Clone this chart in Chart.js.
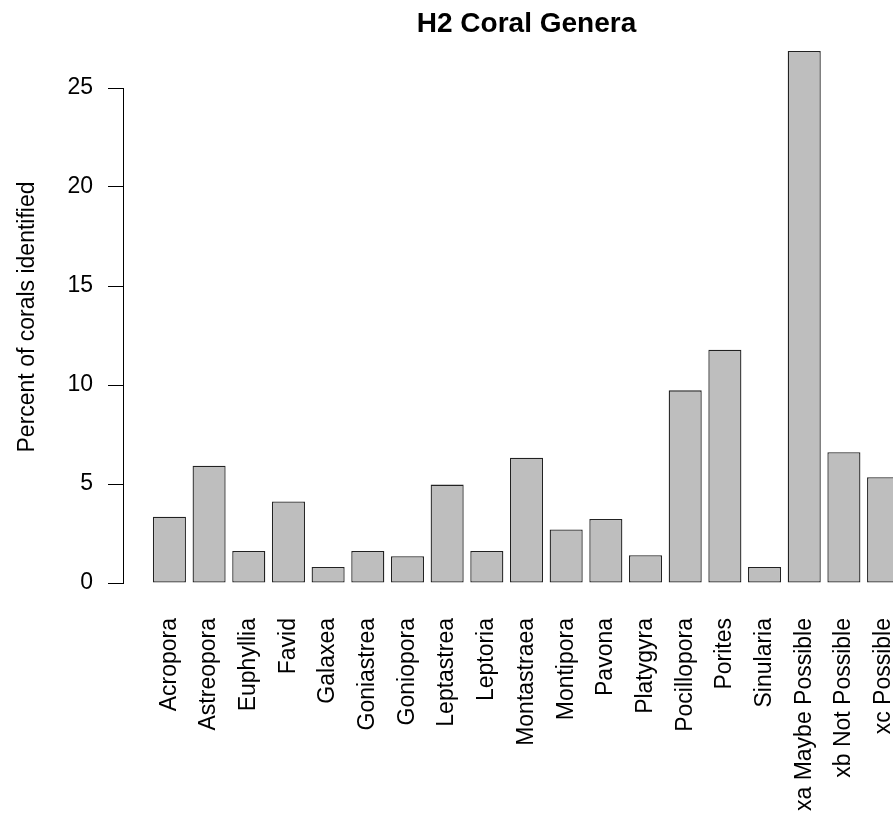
<!DOCTYPE html>
<html>
<head>
<meta charset="utf-8">
<script src="https://cdn.jsdelivr.net/npm/chart.js@4/dist/chart.umd.min.js"></script>
<style>
  html, body { margin: 0; padding: 0; background: #fff; overflow: hidden; width: 893px; height: 813px; }
  #wrap { position: absolute; left: 0; top: 0; width: 930px; height: 813px; }
  #c { width: 930px; height: 813px; }
</style>
</head>
<body>
<div id="wrap"><canvas id="c" width="930" height="813"></canvas></div>
<script>
const chartTitle = "H2 Coral Genera";
const yAxisTitle = "Percent of corals identified";
const categories = ["Acropora", "Astreopora", "Euphyllia", "Favid", "Galaxea", "Goniastrea",
  "Goniopora", "Leptastrea", "Leptoria", "Montastraea", "Montipora", "Pavona", "Platygyra",
  "Pocillopora", "Porites", "Sinularia", "xa Maybe Possible", "xb Not Possible", "xc Possible"];
const percents = [3.35, 5.92, 1.62, 4.12, 0.81, 1.62, 1.35, 4.97, 1.62, 6.33, 2.70, 3.23, 1.40,
  9.73, 11.78, 0.81, 26.87, 6.60, 5.34];
const yTickValues = [0, 5, 10, 15, 20, 25];

const FONT = "'Liberation Sans', Arial, sans-serif";
const points = categories.map((c, i) => ({ x: i, y: percents[i] }));

// y-axis title centred on the full plotting region (R style: 4% padding around data range)
const yTitlePlugin = {
  id: 'yTitleR',
  afterDraw(chart) {
    const y = chart.scales.y;
    const maxV = Math.max(...percents);
    const lo = -0.04 * maxV, hi = maxV * 1.04;
    const cy = y.getPixelForValue((lo + hi) / 2);
    const ctx = chart.ctx;
    ctx.save();
    ctx.translate(28, cy);
    ctx.rotate(-Math.PI / 2);
    ctx.font = "23px " + FONT;
    ctx.fillStyle = '#000';
    ctx.textAlign = 'center';
    ctx.textBaseline = 'middle';
    ctx.fillText(yAxisTitle, 0, 0);
    ctx.restore();
  }
};

new Chart(document.getElementById('c'), {
  type: 'bar',
  data: {
    datasets: [{
      data: points,
      backgroundColor: '#bebebe',
      borderColor: '#222',
      borderWidth: 1.3,
      borderSkipped: false,
      categoryPercentage: 1,
      barPercentage: 1 / 1.2,
      clip: false
    }]
  },
  plugins: [yTitlePlugin],
  options: {
    responsive: false,
    animation: false,
    devicePixelRatio: 1,
    layout: { padding: 0 },
    plugins: {
      legend: { display: false },
      tooltip: { enabled: false },
      title: {
        display: true,
        text: chartTitle,
        fullSize: false,
        color: '#000',
        font: { family: FONT, size: 28, weight: 'bold', lineHeight: 1.2 },
        padding: { top: 7.5, bottom: 46.9 }
      }
    },
    scales: {
      x: {
        type: 'linear',
        position: 'bottom',
        offset: false,
        min: -1.17,
        max: 19.17,
        grid: { display: false, drawTicks: false, offset: false },
        border: { display: false },
        ticks: {
          stepSize: 1,
          includeBounds: false,
          autoSkip: false,
          minRotation: 90,
          maxRotation: 90,
          padding: 35,
          color: '#000',
          font: { family: FONT, size: 23 },
          callback: (v) => (Number.isInteger(v) && categories[v] !== undefined) ? categories[v] : ''
        },
        afterFit: (s) => { s.height = 230; s.paddingLeft = 0; s.paddingRight = 0; }
      },
      y: {
        min: yTickValues[0],
        max: yTickValues[yTickValues.length - 1],
        grid: { display: true, drawOnChartArea: false, drawTicks: true, tickLength: 15, color: '#000', lineWidth: 1 },
        border: { display: true, color: '#000', width: 1 },
        ticks: {
          padding: 15,
          color: '#000',
          font: { family: FONT, size: 23 }
        },
        afterBuildTicks: (s) => { s.ticks = yTickValues.map(v => ({ value: v })); },
        title: { display: false },
        afterFit: (s) => { s.width = 123; }
      }
    }
  }
});
</script>
</body>
</html>
